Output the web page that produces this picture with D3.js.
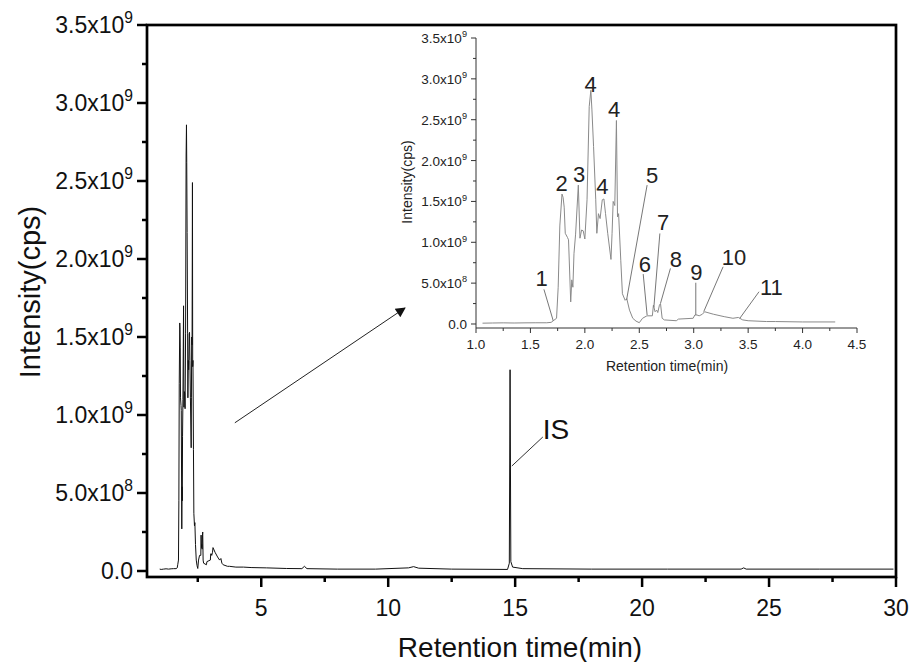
<!DOCTYPE html>
<html><head><meta charset="utf-8">
<script src="https://cdn.jsdelivr.net/npm/d3@7"></script>
<style>
html,body{margin:0;padding:0;background:#fff;}
svg{display:block;font-family:"Liberation Sans",Arial,sans-serif;}
</style></head>
<body><svg id="c" width="909" height="662"></svg>
<script>
// Retention time (min) and intensity (x10^9 cps)
const times = [1.00,1.06,1.15,1.25,1.35,1.45,1.55,1.65,1.69,1.71,1.74,1.755,1.77,1.79,1.80,1.81,1.82,1.84,1.85,1.87,1.88,1.89,1.90,1.915,1.94,1.955,1.97,1.985,2.00,2.02,2.04,2.055,2.065,2.08,2.10,2.11,2.125,2.14,2.16,2.175,2.19,2.21,2.24,2.25,2.26,2.275,2.29,2.30,2.31,2.33,2.345,2.37,2.385,2.41,2.44,2.47,2.50,2.53,2.57,2.62,2.63,2.645,2.66,2.67,2.685,2.695,2.71,2.73,2.84,2.86,2.995,3.01,3.03,3.05,3.08,3.10,3.18,3.28,3.36,3.41,3.45,3.50,3.67,3.75,4.00,4.30,4.6,5.2,6.0,6.6,6.7,6.8,8.0,9.5,10.8,11.0,11.2,12.5,14.7,14.77,14.8,14.83,14.9,15.3,18,21,23.9,24.0,24.1,27,29.9];
const intensity = [0.012,0.010,0.012,0.014,0.012,0.014,0.015,0.015,0.02,0.04,0.07,0.45,1.20,1.59,1.55,1.43,1.11,1.06,1.03,0.27,0.54,0.45,0.86,1.10,1.70,1.05,1.15,1.14,1.04,1.52,2.66,2.86,2.62,2.17,1.52,1.11,1.35,1.29,1.52,1.53,1.35,1.11,0.79,1.11,1.50,1.45,2.49,1.31,1.35,0.78,0.37,0.29,0.31,0.17,0.07,0.035,0.016,0.07,0.10,0.10,0.23,0.15,0.17,0.14,0.23,0.25,0.07,0.05,0.04,0.06,0.07,0.11,0.11,0.10,0.12,0.15,0.12,0.09,0.07,0.08,0.05,0.04,0.03,0.03,0.025,0.025,0.022,0.02,0.016,0.015,0.03,0.015,0.012,0.012,0.02,0.028,0.018,0.012,0.01,0.05,1.29,0.06,0.025,0.015,0.012,0.012,0.012,0.02,0.012,0.012,0.012];

const mainXTicks = [5,10,15,20,25,30];
const mainXMinor = [2.5,7.5,12.5,17.5,22.5,27.5];
const yTicks = [0,0.5,1.0,1.5,2.0,2.5,3.0,3.5];
const yMinor = [0.25,0.75,1.25,1.75,2.25,2.75,3.25];
const insetXTicks = [1.0,1.5,2.0,2.5,3.0,3.5,4.0,4.5];
const insetXMinor = [1.25,1.75,2.25,2.75,3.25,3.75,4.25];

// peak labels in inset: [text, labelTime, labelValue, leaderFromT, leaderFromV, leaderToT, leaderToV]
const peakLabels = [
  ["1",1.603,0.465,1.624,0.424,1.71,0.037],
  ["2",1.786,1.63,null,null,null,null],
  ["3",1.948,1.74,null,null,null,null],
  ["4",2.052,2.84,null,null,null,null],
  ["4",2.27,2.53,null,null,null,null],
  ["4",2.16,1.585,null,null,null,null],
  ["5",2.618,1.73,2.572,1.70,2.383,0.293],
  ["6",2.551,0.64,2.536,0.611,2.572,0.11],
  ["7",2.719,1.15,2.689,1.108,2.634,0.204],
  ["8",2.835,0.70,2.786,0.68,2.695,0.253],
  ["9",3.025,0.538,3.019,0.505,3.019,0.11],
  ["10",3.371,0.72,3.27,0.70,3.092,0.151],
  ["11",3.713,0.355,3.60,0.395,3.423,0.069]
];

const data = times.map((t,i)=>({t, v:intensity[i]}));
const svg = d3.select("#c");

// ---------- main plot ----------
const x = d3.scaleLinear().domain([0.5,30]).range([147,896]);
const y = d3.scaleLinear().domain([-0.0385,3.5]).range([577,25]);

function yLabel(t, v, fs){
  if (v===0){ t.text("0.0"); return; }
  const exp = v<1 ? 8 : 9;
  const man = v<1 ? (v*10).toFixed(1) : v.toFixed(1);
  t.text(null);
  t.append("tspan").text(man+"x10");
  t.append("tspan").attr("dy", -fs*0.42).attr("font-size", fs*0.68).text(exp);
}

// trace
svg.append("path").datum(data)
  .attr("d", d3.line().x(d=>x(d.t)).y(d=>y(d.v)))
  .attr("fill","none").attr("stroke","#111").attr("stroke-width",1);

// frame
svg.append("rect").attr("x",147).attr("y",25).attr("width",896-147).attr("height",577-25)
  .attr("fill","none").attr("stroke","#000").attr("stroke-width",2.7);

// x ticks
const gx = svg.append("g");
gx.selectAll("line.maj").data(mainXTicks).join("line")
  .attr("x1",d=>x(d)).attr("x2",d=>x(d)).attr("y1",577).attr("y2",587)
  .attr("stroke","#000").attr("stroke-width",2.5);
gx.selectAll("line.min").data(mainXMinor).join("line").attr("class","min")
  .attr("x1",d=>x(d)).attr("x2",d=>x(d)).attr("y1",577).attr("y2",582)
  .attr("stroke","#000").attr("stroke-width",2.5);
gx.selectAll("text").data(mainXTicks).join("text")
  .attr("x",d=>x(d)).attr("y",616).attr("text-anchor","middle")
  .attr("font-size",23).attr("fill","#111").text(d=>d);

// y ticks
const gy = svg.append("g");
gy.selectAll("line.maj").data(yTicks).join("line")
  .attr("x1",137).attr("x2",147).attr("y1",d=>y(d)).attr("y2",d=>y(d))
  .attr("stroke","#000").attr("stroke-width",2.5);
gy.selectAll("line.min").data(yMinor).join("line").attr("class","min")
  .attr("x1",142).attr("x2",147).attr("y1",d=>y(d)).attr("y2",d=>y(d))
  .attr("stroke","#000").attr("stroke-width",2.5);
gy.selectAll("text").data(yTicks).join("text")
  .attr("x",133).attr("y",d=>y(d)+8).attr("text-anchor","end")
  .attr("font-size",23).attr("fill","#111")
  .each(function(d){ yLabel(d3.select(this), d, 23); });

svg.append("text").attr("x",520).attr("y",657).attr("text-anchor","middle")
  .attr("font-size",28).attr("fill","#111").text("Retention time(min)");
svg.append("text").attr("transform","translate(40,292) rotate(-90)").attr("text-anchor","middle")
  .attr("font-size",29).attr("fill","#111").text("Intensity(cps)");

// IS annotation
svg.append("line").attr("x1",x(16.09)).attr("y1",y(0.859)).attr("x2",x(14.87)).attr("y2",y(0.673))
  .attr("stroke","#333").attr("stroke-width",1);
svg.append("text").attr("x",x(16.09)).attr("y",y(0.846)).attr("font-size",28).attr("fill","#111").text("IS");

// arrow
svg.append("defs").append("marker").attr("id","ah").attr("viewBox","0 0 10 10")
  .attr("refX",9).attr("refY",5).attr("markerWidth",14).attr("markerHeight",10)
  .attr("markerUnits","userSpaceOnUse").attr("orient","auto")
  .append("path").attr("d","M0,0 L10,5 L0,10 Z").attr("fill","#111");
svg.append("line").attr("x1",x(3.96)).attr("y1",y(0.95)).attr("x2",x(10.66)).attr("y2",y(1.686))
  .attr("stroke","#222").attr("stroke-width",1).attr("marker-end","url(#ah)");

// ---------- inset ----------
const xi = d3.scaleLinear().domain([1.0,4.5]).range([476,857]);
const yi = d3.scaleLinear().domain([-0.049,3.5]).range([328,38]);
const insetData = data.filter(d=>d.t>=1.06 && d.t<=4.3);
const ink = "#333";

svg.append("path").datum(insetData)
  .attr("d", d3.line().x(d=>xi(d.t)).y(d=>yi(d.v)))
  .attr("fill","none").attr("stroke","#8a8a8a").attr("stroke-width",1);

svg.append("line").attr("x1",476).attr("x2",476).attr("y1",38).attr("y2",328).attr("stroke",ink).attr("stroke-width",1);
svg.append("line").attr("x1",476).attr("x2",857).attr("y1",328).attr("y2",328).attr("stroke",ink).attr("stroke-width",1);

const gix = svg.append("g");
gix.selectAll("line.maj").data(insetXTicks).join("line")
  .attr("x1",d=>xi(d)).attr("x2",d=>xi(d)).attr("y1",328).attr("y2",333).attr("stroke",ink);
gix.selectAll("line.min").data(insetXMinor).join("line").attr("class","min")
  .attr("x1",d=>xi(d)).attr("x2",d=>xi(d)).attr("y1",328).attr("y2",331).attr("stroke",ink);
gix.selectAll("text").data(insetXTicks).join("text")
  .attr("x",d=>xi(d)).attr("y",349).attr("text-anchor","middle")
  .attr("font-size",13.5).attr("fill","#222").text(d=>d.toFixed(1));

const giy = svg.append("g");
giy.selectAll("line.maj").data(yTicks).join("line")
  .attr("x1",471).attr("x2",476).attr("y1",d=>yi(d)).attr("y2",d=>yi(d)).attr("stroke",ink);
giy.selectAll("line.min").data(yMinor).join("line").attr("class","min")
  .attr("x1",473).attr("x2",476).attr("y1",d=>yi(d)).attr("y2",d=>yi(d)).attr("stroke",ink);
giy.selectAll("text").data(yTicks).join("text")
  .attr("x",467).attr("y",d=>yi(d)+5).attr("text-anchor","end")
  .attr("font-size",13.5).attr("fill","#222")
  .each(function(d){ yLabel(d3.select(this), d, 13.5); });

svg.append("text").attr("x",667).attr("y",371).attr("text-anchor","middle")
  .attr("font-size",14).attr("fill","#222").text("Retention time(min)");
svg.append("text").attr("transform","translate(412,182) rotate(-90)").attr("text-anchor","middle")
  .attr("font-size",14).attr("fill","#222").text("Intensity(cps)");

// peak labels
const gp = svg.append("g");
peakLabels.forEach(p=>{
  if (p[3]!==null){
    gp.append("line").attr("x1",xi(p[3])).attr("y1",yi(p[4])).attr("x2",xi(p[5])).attr("y2",yi(p[6]))
      .attr("stroke","#777").attr("stroke-width",1);
  }
  gp.append("text").attr("x",xi(p[1])).attr("y",yi(p[2])).attr("text-anchor","middle")
    .attr("font-size",22).attr("fill","#222").text(p[0]);
});
</script></body></html>
